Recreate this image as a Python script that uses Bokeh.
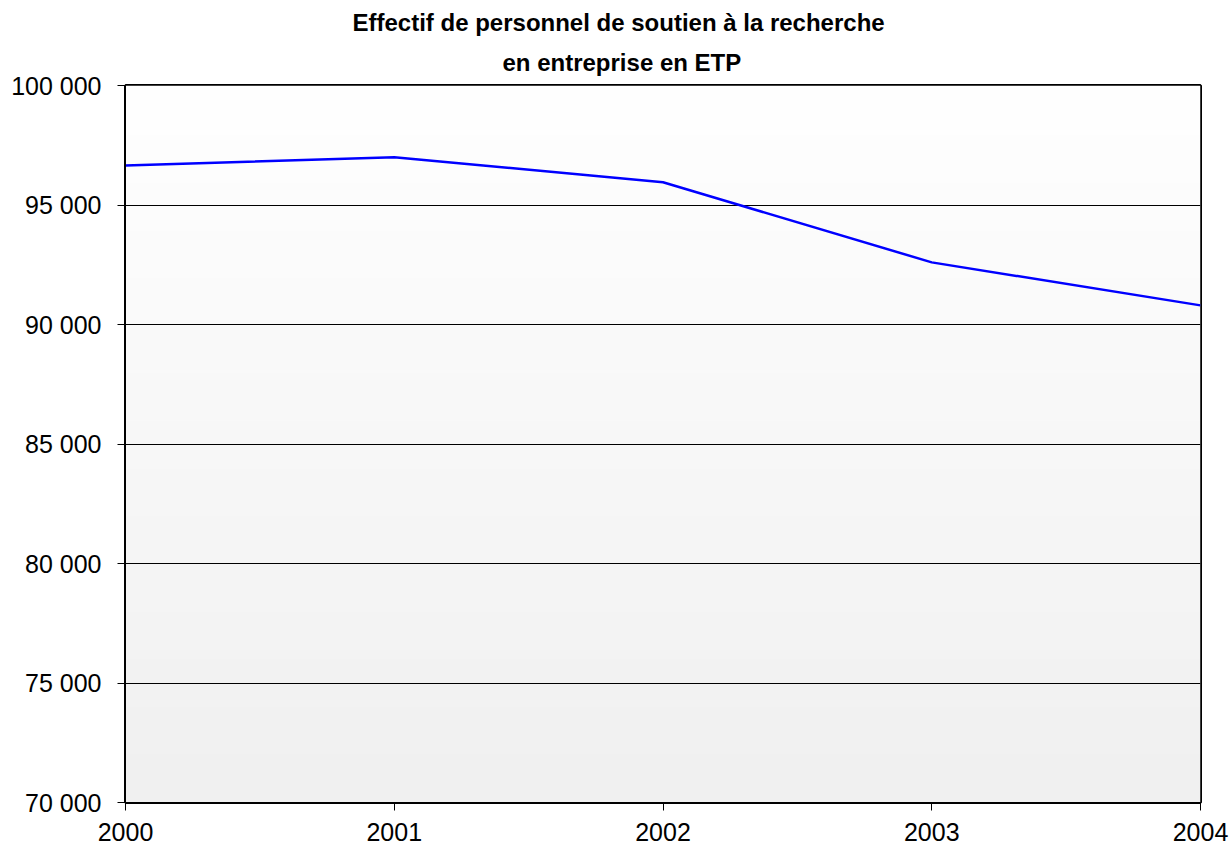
import numpy as np
from bokeh.plotting import figure
from bokeh.models import Title, FixedTicker, Range1d
from bokeh.embed import file_html
from bokeh.resources import INLINE

years = [2000, 2001, 2002, 2003, 2004]
values = [96650, 97000, 95950, 92600, 90800]
y_ticks = [70000, 75000, 80000, 85000, 90000, 95000, 100000]
y_labels = ["70 000", "75 000", "80 000", "85 000", "90 000", "95 000", "100 000"]
x_labels = ["2000", "2001", "2002", "2003", "2004"]

p = figure(width=1232, height=850, output_backend="svg", toolbar_location=None,
           x_range=Range1d(2000, 2004), y_range=Range1d(70000, 100000),
           min_border_left=125, min_border_right=32, min_border_top=85, min_border_bottom=48)
p.title = None

# background gradient
n = 256
g = np.linspace(240, 255, n)
img = np.zeros((n, 1), dtype=np.uint32)
view = img.view(dtype=np.uint8).reshape((n, 1, 4))
view[:, 0, 0] = g.astype(np.uint8)
view[:, 0, 1] = g.astype(np.uint8)
view[:, 0, 2] = g.astype(np.uint8)
view[:, 0, 3] = 255
p.image_rgba(image=[img], x=2000, y=70000, dw=4, dh=30000, level="image")

p.line(years, values, line_color="#0000ff", line_width=2.5)

p.outline_line_color = "black"
p.outline_line_width = 3
p.background_fill_color = "white"

p.xgrid.visible = False
p.ygrid.grid_line_color = "black"
p.ygrid.grid_line_width = 1
p.ygrid.ticker = FixedTicker(ticks=y_ticks)

p.xaxis.ticker = FixedTicker(ticks=years)
p.xaxis.major_label_overrides = {y: l for y, l in zip(years, x_labels)}
p.yaxis.ticker = FixedTicker(ticks=y_ticks)
p.yaxis.major_label_overrides = {t: l for t, l in zip(y_ticks, y_labels)}
for ax in (p.xaxis[0], p.yaxis[0]):
    ax.axis_line_color = "black"
    ax.major_tick_line_color = "black"
    ax.minor_tick_line_color = None
    ax.major_tick_in = 0
    ax.major_label_text_font = "Liberation Sans"
    ax.major_label_text_font_size = "25px"
    ax.major_label_text_color = "black"
p.xaxis.major_tick_out = 8
p.xaxis.major_label_standoff = 12
p.yaxis.major_tick_out = 8
p.yaxis.major_label_standoff = 16

t2 = Title(text="en entreprise en ETP", align="left", text_font="Liberation Sans",
           text_font_size="24px", text_font_style="bold", text_color="black",
           standoff=20, offset=377)
t1 = Title(text="Effectif de personnel de soutien à la recherche", align="left",
           text_font="Liberation Sans", text_font_size="24px", text_font_style="bold",
           text_color="black", standoff=1, offset=227)
p.add_layout(t2, "above")
p.add_layout(t1, "above")

open("out.html", "w").write(file_html(p, INLINE))
